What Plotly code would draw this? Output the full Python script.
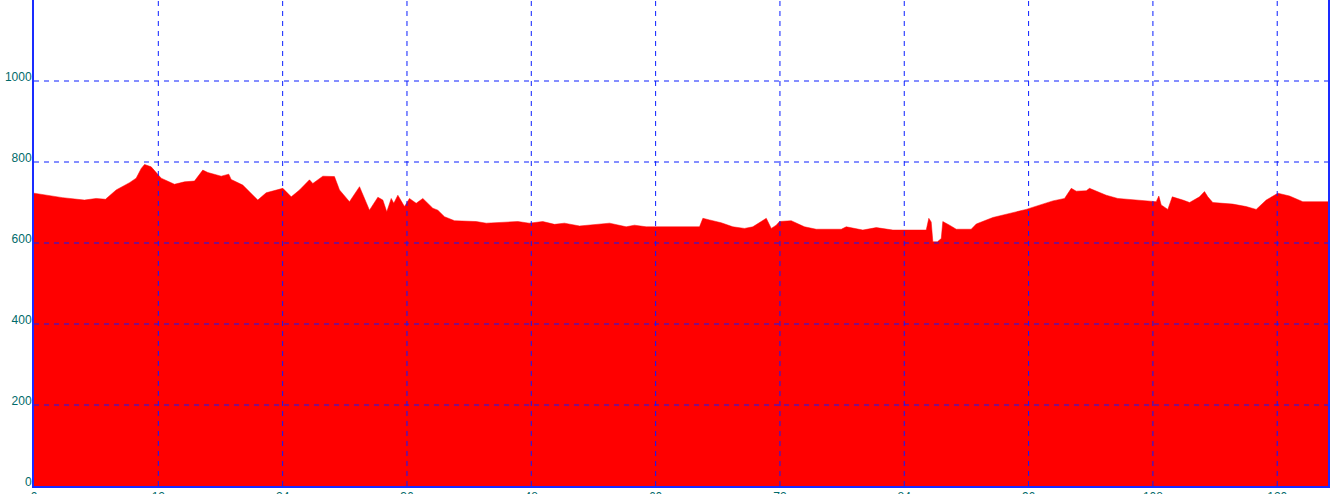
import plotly.graph_objects as go

dist_km = [0.0, 1.3, 2.75, 4.87, 6.0, 6.9, 7.93, 9.22, 9.86, 10.35, 10.67, 11.31, 11.89,
           12.28, 13.56, 14.53, 15.49, 16.29, 16.78, 18.07, 18.8, 19.03, 20.15, 21.6,
           22.41, 23.7, 24.02, 24.83, 25.63, 26.59, 26.91, 27.88, 29.0, 29.49, 30.45,
           31.42, 32.38, 33.19, 33.67, 34.05, 34.48, 34.73, 35.12, 35.76, 36.24, 36.89,
           37.53, 38.49, 38.98, 39.62, 40.59, 42.68, 43.65, 46.7, 47.8, 49.11, 50.24,
           51.2, 52.66, 55.56, 57.16, 57.96, 59.09, 64.24, 64.56, 65.2, 66.33, 67.45,
           68.58, 69.38, 70.68, 71.16, 71.64, 71.96, 73.09, 74.37, 75.5, 77.92, 78.4,
           80.0, 81.3, 82.9, 86.12, 86.37, 86.6, 86.76, 87.2, 87.57, 87.72, 88.37,
           89.02, 90.46, 90.95, 92.55, 94.48, 95.77, 96.74, 98.34, 99.47, 100.12,
           100.6, 101.57, 101.88, 102.53, 103.49, 104.61, 106.71, 108.32, 108.57,
           108.8, 109.44, 109.87, 110.89, 111.54, 112.5, 112.98, 113.3, 113.78,
           115.71, 117.0, 117.97, 118.94, 120.06, 121.19, 122.47, 124.9]
elev_m = [723, 718, 712, 706, 710, 708, 731, 749, 760, 784, 794, 788, 772,
          760, 745, 751, 753, 780, 774, 765, 770, 757, 743, 706,
          724, 733, 735, 714, 731, 756, 747, 765, 764, 731, 702,
          739, 681, 713, 706, 677, 710, 698, 718, 690, 710, 698,
          710, 686, 681, 665, 655, 653, 649, 653, 649, 653, 646,
          649, 642, 649, 640, 644, 640, 640, 661, 657, 650, 640,
          636, 640, 661, 636, 644, 653, 655, 640, 634, 634, 640,
          632, 638, 632, 632, 661, 652, 603, 603, 611, 653, 644,
          634, 634, 647, 663, 675, 683, 691, 704, 710, 735,
          728, 729, 735, 728, 718, 710, 706, 702, 716,
          694, 683, 714, 706, 700, 714, 727, 714, 700,
          696, 690, 683, 706, 723, 716, 702, 702]

x_tick_vals = [0, 12, 24, 36, 48, 60, 72, 84, 96, 108, 120]
x_tick_text = ["0", "12", "24", "36", "48", "60", "72", "84", "96", "108", "120"]
y_tick_vals = [0, 200, 400, 600, 800, 1000, 1200]
y_tick_text = ["0", "200", "400", "600", "800", "1000", "1200"]

X_MAX = 124.9
Y_MAX = 1200
GRID = "#0a1eff"
AXIS = "#1a2cff"
LABEL = "#006a6a"

fig = go.Figure()
fig.add_trace(go.Scatter(
    x=dist_km, y=elev_m, mode="lines", fill="tozeroy",
    fillcolor="#ff0000", line=dict(color="#ff0000", width=0.5),
    hoverinfo="x+y", showlegend=False,
))

shapes = []
for v in x_tick_vals[1:]:
    shapes.append(dict(type="line", xref="x", yref="paper", x0=v, x1=v, y0=0, y1=1,
                       layer="above", line=dict(color=GRID, width=1, dash="5px,5px")))
for v in y_tick_vals[1:-1]:
    shapes.append(dict(type="line", xref="paper", yref="y", x0=0, x1=1, y0=v, y1=v,
                       layer="above", line=dict(color=GRID, width=1, dash="5px,5px")))

fig.update_layout(
    width=1338, height=494,
    margin=dict(l=34, r=10, t=0, b=8, autoexpand=False),
    paper_bgcolor="white", plot_bgcolor="white",
    font=dict(family="Liberation Sans, Arial, sans-serif", size=12, color=LABEL),
    shapes=shapes,
    xaxis=dict(range=[0, X_MAX], tickvals=x_tick_vals, ticktext=x_tick_text,
               showgrid=False, zeroline=False, showline=True, linecolor=AXIS,
               linewidth=2, mirror=True, ticks="", ticklabelstandoff=-1,
               automargin=False, ticklabeloverflow="allow", layer="above traces",
               tickfont=dict(size=12, color=LABEL)),
    yaxis=dict(range=[0, Y_MAX], tickvals=y_tick_vals, ticktext=y_tick_text,
               showgrid=False, zeroline=False, showline=True, linecolor=AXIS,
               linewidth=2, mirror=True, ticks="", ticklabelstandoff=-2,
               ticklabelshift=-4, automargin=False, ticklabeloverflow="allow",
               layer="above traces", tickfont=dict(size=12, color=LABEL)),
)

fig.write_html(
    "out.html",
    config={"displayModeBar": False},
    post_script="document.body.style.margin='0';document.body.style.overflow='hidden';",
)
